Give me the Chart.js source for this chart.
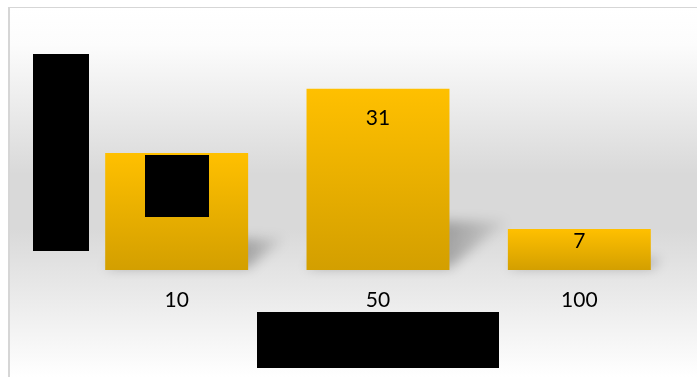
<!DOCTYPE html>
<html>
<head>
<meta charset="utf-8">
<script src="https://cdn.jsdelivr.net/npm/chart.js@4"></script>
<style>
  html, body { margin: 0; padding: 0; background: #fff; }
  #wrap { width: 697px; height: 377px; }
</style>
</head>
<body>
<div id="wrap"><canvas id="barChart" width="697" height="377"></canvas></div>
<script>
// chart data
const categories = ["10", "50", "100"];
const counts = [20, 31, 7];
const yMax = 40;

const ctx = document.getElementById("barChart");

// background: soft gray band + thin frame
const backgroundPlugin = {
    id: "bg",
    beforeDraw: (chart) => {
        const c = chart.ctx;
        c.save();
        c.fillStyle = "#fff";
        c.fillRect(0, 0, chart.width, chart.height);
        const g = c.createLinearGradient(0, 8, 0, chart.height);
        g.addColorStop(0, "#ffffff");
        g.addColorStop(0.1, "#fcfcfc");
        g.addColorStop(0.45, "#d9d9d9");
        g.addColorStop(0.6, "#d9d9d9");
        g.addColorStop(1, "#ffffff");
        c.fillStyle = g;
        c.fillRect(9, 8, chart.width - 9, chart.height - 8);
        c.fillStyle = "#d6d6d6";
        c.fillRect(8, 7, chart.width - 8, 1);
        c.fillRect(8, 7, 2, chart.height - 7);
        c.restore();
    }
};

// skewed soft shadow behind each bar
const shadowPlugin = {
    id: "barShadow",
    beforeDatasetsDraw: (chart) => {
        const c = chart.ctx;
        const meta = chart.getDatasetMeta(0);
        c.save();
        c.filter = "blur(6px)";
        meta.data.forEach((bar) => {
            const { x, y, base, width } = bar.getProps(["x", "y", "base", "width"], true);
            const h = base - y;
            const x0 = x - width / 2, x1 = x + width / 2;
            const dx = h * 0.32, dy = h * 0.27;
            const g = c.createLinearGradient(x1, 0, x1 + dx, 0);
            g.addColorStop(0, "rgba(0,0,0,0.26)");
            g.addColorStop(1, "rgba(0,0,0,0.04)");
            c.fillStyle = g;
            c.beginPath();
            c.moveTo(x0, base - 2);
            c.lineTo(x1, base - 2);
            c.lineTo(x1 + dx, base - dy);
            c.lineTo(x0 + dx, base - dy);
            c.closePath();
            c.fill();
        });
        c.restore();
    }
};

// value labels inside the bar tops
const labelOffsets = [30, 30, 12.5];
const valueLabelPlugin = {
    id: "valueLabels",
    afterDatasetsDraw: (chart) => {
        const c = chart.ctx;
        const meta = chart.getDatasetMeta(0);
        c.save();
        c.font = "21px Lato";
        c.fillStyle = "#000";
        c.textAlign = "center";
        c.textBaseline = "middle";
        meta.data.forEach((bar, i) => {
            c.fillText(String(counts[i]), bar.x, bar.y + labelOffsets[i]);
        });
        c.restore();
    }
};

// redacted areas of the source picture
const redactPlugin = {
    id: "redact",
    afterDraw: (chart) => {
        const c = chart.ctx;
        c.save();
        c.fillStyle = "#000";
        c.fillRect(33, 54, 56, 197);
        c.fillRect(145, 155, 64, 62);
        c.fillRect(257, 312, 242, 56);
        c.restore();
    }
};

const barGradient = (context) => {
    const chart = context.chart;
    if (!chart.chartArea || context.type !== "data") return "#ffc000";
    const yScale = chart.scales.y;
    const top = yScale.getPixelForValue(context.raw);
    const base = yScale.getPixelForValue(0);
    const g = chart.ctx.createLinearGradient(0, top, 0, base);
    g.addColorStop(0, "#ffc000");
    g.addColorStop(1, "#d39f00");
    return g;
};

const barChart = new Chart(ctx, {
    type: "bar",
    data: {
        labels: categories,
        datasets: [
            {
                data: counts,
                backgroundColor: barGradient,
                borderWidth: 0,
                barPercentage: 0.71,
                categoryPercentage: 1
            }
        ]
    },
    options: {
        responsive: false,
        animation: false,
        devicePixelRatio: 1,
        layout: { padding: { left: 76, right: 17, top: 36, bottom: 0 } },
        plugins: {
            legend: { display: false },
            tooltip: { enabled: false }
        },
        scales: {
            x: {
                grid: { display: false },
                border: { display: false },
                ticks: {
                    color: "#000",
                    font: { family: "Lato", size: 21 },
                    padding: 10
                },
                afterFit: (scale) => { scale.height = 107; }
            },
            y: {
                display: false,
                min: 0,
                max: yMax
            }
        }
    },
    plugins: [backgroundPlugin, shadowPlugin, valueLabelPlugin, redactPlugin]
});
</script>
</body>
</html>
